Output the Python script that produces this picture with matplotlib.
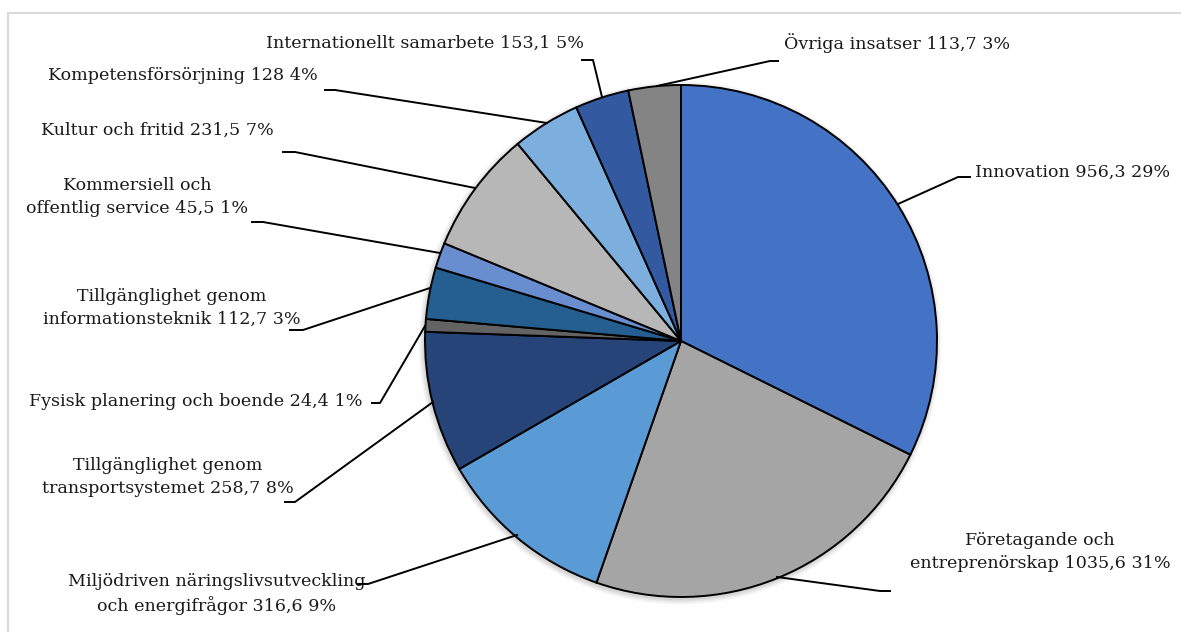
import matplotlib.pyplot as plt
from matplotlib.patches import Circle

W, H = 1181, 632

names = ["Innovation", "Företagande och\nentreprenörskap", "Miljödriven näringslivsutveckling\noch energifrågor",
         "Tillgänglighet genom\ntransportsystemet", "Fysisk planering och boende",
         "Tillgänglighet genom\ninformationsteknik", "Kommersiell och\noffentlig service",
         "Kultur och fritid", "Kompetensförsörjning", "Internationellt samarbete", "Övriga insatser"]
values = [956.3, 1035.6, 316.6, 258.7, 24.4, 112.7, 45.5, 231.5, 128, 153.1, 113.7]
percents = [29, 31, 9, 8, 1, 3, 1, 7, 4, 5, 3]
# slice sizes as drawn in the picture (%)
shares = [32.3, 23.0, 11.3, 8.9, 0.8, 3.25, 1.6, 7.75, 4.3, 3.4, 3.3]
colors = ["#4472C4", "#A5A5A5", "#5B9BD5", "#264478", "#636363", "#255E91",
          "#698ED0", "#B7B7B7", "#7CAFDD", "#335AA1", "#848484"]

plt.rcParams['font.family'] = ['DejaVu Serif']

fig = plt.figure(figsize=(W / 100, H / 100), dpi=100)
ax = fig.add_axes([0, 0, 1, 1])


def py(y):
    return H - y


cx, cy, r = 681, py(341), 256

# soft shadow
for i, a in enumerate([0.05, 0.05, 0.04, 0.03]):
    ax.add_patch(Circle((cx - 1, cy - 2), r + 1 + i * 1.5, color='black', alpha=a, lw=0, zorder=1))

ax.pie(shares, colors=colors, startangle=90, counterclock=False, center=(cx, cy), radius=r,
       wedgeprops=dict(edgecolor='black', linewidth=1.4), frame=True)
ax.set_xlim(0, W)
ax.set_ylim(0, H)
ax.set_aspect('equal')
ax.axis('off')

# label text positions (px) and leader lines (px)
text_pos = [(975, 172, 'left'), (1040, 552, 'center'), (217, 594, 'center'), (168, 477, 'center'),
            (196, 402, 'center'), (172, 308, 'center'), (137, 197, 'center'), (157, 130, 'center'),
            (183, 76, 'center'), (425, 43, 'center'), (897, 43, 'center')]
leaders = [[(898, 204), (958, 177), (970, 177)],
           [(777, 577), (880, 591), (890, 591)],
           [(517, 535), (368, 584), (358, 584)],
           [(433, 402), (295, 502), (285, 502)],
           [(425, 326), (380, 403), (372, 403)],
           [(430, 288), (303, 330), (290, 330)],
           [(440, 253), (263, 222), (252, 222)],
           [(475, 188), (295, 152), (283, 152)],
           [(547, 123), (335, 90), (325, 90)],
           [(602, 97), (593, 60), (582, 60)],
           [(657, 86), (770, 61), (778, 61)]]

for name, v, p, (tx, ty, ha), pts in zip(names, values, percents, text_pos, leaders):
    label = f"{name} {v:g} {p}%".replace('.', ',')
    ax.text(tx, py(ty), label, ha=ha, va='center', multialignment='center', fontsize=12.6,
            color='#1a1a1a', linespacing=1.45)
    xs = [q[0] for q in pts]
    ys = [py(q[1]) for q in pts]
    ax.plot(xs, ys, color='black', lw=1.4, zorder=5)

# chart border
ax.plot([8, 8, W], [0, py(13), py(13)], color='#D9D9D9', lw=1.5)

fig.savefig('out.png', dpi=100, facecolor='white')
